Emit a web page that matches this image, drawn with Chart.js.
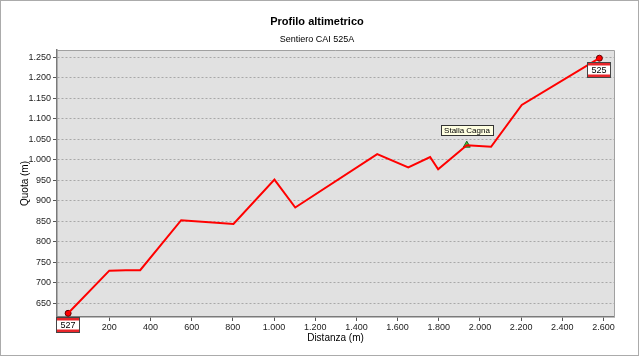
<!DOCTYPE html>
<html>
<head>
<meta charset="utf-8">
<script src="https://cdn.jsdelivr.net/npm/chart.js@4.4.0/dist/chart.umd.min.js"></script>
<style>
  body { margin: 0; background: #fff; }
  canvas { display: block; }
</style>
</head>
<body>
<canvas id="chart" width="640" height="357"></canvas>
<script>
// profile points (distance m, elevation m)
const distanza = [0, 200, 280, 350, 549, 803, 1002, 1103, 1501, 1652, 1758, 1797, 1936, 2054, 2203, 2580];
const quota = [626, 730, 731, 731, 853, 844, 952, 884, 1014, 982, 1007, 977, 1036, 1032, 1134, 1248];

// trail signs at start / end
const segnaliNomi = ["527", "525"];
const segnaliDist = [0, 2580];
const segnaliQuota = [626, 1248];

// points of interest
const poiNomi = ["Stalla Cagna"];
const poiDist = [1936];
const poiQuota = [1036];

// axis ticks
const xTicks = [200, 400, 600, 800, 1000, 1200, 1400, 1600, 1800, 2000, 2200, 2400, 2600];
const yTicks = [650, 700, 750, 800, 850, 900, 950, 1000, 1050, 1100, 1150, 1200, 1250];
const xRange = [-54, 2651];
const yRange = [617, 1268];

const fmt = (v) => String(v).replace(/\B(?=(\d{3})+(?!\d))/g, ".");
const FONT = "Arial, 'Liberation Sans', sans-serif";

const canvasRef = document.getElementById("chart");

// background, frame and plot area fill
const sfondo = {
  id: "sfondo",
  beforeDraw(chart) {
    const ctx = chart.ctx;
    const a = chart.chartArea;
    ctx.save();
    ctx.fillStyle = "#fff";
    ctx.fillRect(0, 0, chart.width, chart.height);
    ctx.strokeStyle = "#ababab";
    ctx.lineWidth = 1;
    ctx.strokeRect(0.5, 0.5, 638, 355);
    ctx.fillStyle = "#e1e1e1";
    ctx.fillRect(a.left, a.top, a.right - a.left, a.bottom - a.top);
    ctx.restore();
  },
  afterDraw(chart) {
    const ctx = chart.ctx;
    const a = chart.chartArea;
    ctx.save();
    ctx.strokeStyle = "#a0a0a0";
    ctx.lineWidth = 1;
    ctx.beginPath();
    ctx.moveTo(a.left, a.top + 0.5);
    ctx.lineTo(a.right + 0.5, a.top + 0.5);
    ctx.lineTo(a.right + 0.5, a.bottom);
    ctx.stroke();
    ctx.restore();
  }
};

// labels: trail signs (red-white-red) and POI tooltip box
const etichette = {
  id: "etichette",
  afterDatasetsDraw(chart) {
    const ctx = chart.ctx;
    const xs = chart.scales.x, ys = chart.scales.y;
    ctx.save();
    ctx.textAlign = "center";
    ctx.textBaseline = "middle";

    ctx.font = "9px " + FONT;
    segnaliNomi.forEach((nome, i) => {
      const px = Math.round(xs.getPixelForValue(segnaliDist[i]));
      const py = Math.round(ys.getPixelForValue(segnaliQuota[i]));
      const w = 23, h = 15;
      const x0 = px - 11.5, y0 = py + 4.5;
      ctx.fillStyle = "#fff";
      ctx.fillRect(x0, y0, w, h);
      ctx.fillStyle = "#e8262b";
      ctx.fillRect(x0, y0, w, 3);
      ctx.fillRect(x0, y0 + h - 3, w, 3);
      ctx.strokeStyle = "#444";
      ctx.lineWidth = 1;
      ctx.strokeRect(x0, y0, w, h);
      ctx.fillStyle = "#000";
      ctx.fillText(nome, px, y0 + h / 2 + 0.5);
    });

    ctx.font = "8px " + FONT;
    poiNomi.forEach((nome, i) => {
      const px = Math.round(xs.getPixelForValue(poiDist[i]));
      const py = Math.round(ys.getPixelForValue(poiQuota[i]));
      const w = Math.ceil(ctx.measureText(nome).width) + 6, h = 10;
      const x0 = Math.round(px - w / 2) + 0.5, y0 = py - 19.5;
      ctx.fillStyle = "#ffffe1";
      ctx.fillRect(x0, y0, w, h);
      ctx.strokeStyle = "#333";
      ctx.strokeRect(x0, y0, w, h);
      ctx.fillStyle = "#000";
      ctx.fillText(nome, px, y0 + h / 2 + 0.5);
    });
    ctx.restore();
  }
};

let myChart = new Chart(canvasRef, {
  type: "scatter",
  data: {
    datasets: [
      {
        label: "Profilo",
        data: distanza.map((d, i) => ({ x: d, y: quota[i] })),
        showLine: true,
        borderColor: "#ff0000",
        borderWidth: 2,
        pointRadius: 0,
        tension: 0,
      },
      {
        label: "Segnali",
        data: segnaliDist.map((d, i) => ({ x: d, y: segnaliQuota[i] })),
        pointStyle: "circle",
        pointRadius: 3,
        backgroundColor: "#ff0000",
        borderColor: "#600000",
        borderWidth: 1,
      },
      {
        label: "POI",
        data: poiDist.map((d, i) => ({ x: d, y: poiQuota[i] })),
        pointStyle: "triangle",
        pointRadius: 4,
        backgroundColor: "#33cc33",
        borderColor: "#1a661a",
        borderWidth: 1,
      },
    ],
  },
  options: {
    responsive: false,
    animation: false,
    layout: { padding: { left: 20, right: 26, top: 0, bottom: 0 } },
    plugins: {
      legend: { display: false },
      tooltip: { enabled: false },
      title: {
        display: true,
        text: "Profilo altimetrico",
        color: "#000",
        font: { family: FONT, size: 11, weight: "bold" },
        padding: { top: 15.4, bottom: 3 },
      },
      subtitle: {
        display: true,
        text: "Sentiero CAI 525A",
        color: "#000",
        font: { family: FONT, size: 9 },
        padding: { top: 3, bottom: 4.6 },
      },
    },
    scales: {
      x: {
        type: "linear",
        min: xRange[0],
        max: xRange[1],
        afterBuildTicks: (s) => { s.ticks = xTicks.map((v) => ({ value: v })); },
        afterFit: (s) => { s.height = 40; },
        grid: { drawOnChartArea: false, tickLength: 4, tickColor: "#555" },
        border: { color: "#7a7a7a", width: 1.5 },
        ticks: {
          color: "#222",
          font: { family: FONT, size: 9 },
          padding: 1,
          maxRotation: 0,
          callback: (v) => fmt(v),
        },
        title: {
          display: true,
          text: "Distanza (m)",
          color: "#000",
          font: { family: FONT, size: 10 },
          padding: { top: 0, bottom: 13 },
        },
      },
      y: {
        type: "linear",
        min: yRange[0],
        max: yRange[1],
        afterBuildTicks: (s) => { s.ticks = yTicks.map((v) => ({ value: v })); },
        afterFit: (s) => { s.width = 37; },
        grid: { color: "#a8a8a8", lineWidth: 1, tickLength: 4, tickColor: "#555" },
        border: { color: "#7a7a7a", width: 1.5, dash: [2, 2] },
        ticks: {
          color: "#222",
          font: { family: FONT, size: 9 },
          padding: 2,
          callback: (v) => fmt(v),
        },
        title: {
          display: true,
          text: "Quota (m)",
          color: "#000",
          font: { family: FONT, size: 10 },
          padding: { top: -1, bottom: 0 },
        },
      },
    },
  },
  plugins: [sfondo, etichette],
});
</script>
</body>
</html>
